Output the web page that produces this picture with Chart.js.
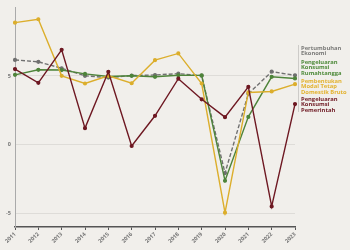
<!DOCTYPE html>
<html>
<head>
<meta charset="utf-8">
<script src="https://cdn.jsdelivr.net/npm/chart.js@4"></script>
<style>
html,body{margin:0;padding:0;background:#f1efeb;}
#wrap{position:relative;width:350px;height:250px;}
</style>
</head>
<body>
<div id="wrap"><canvas id="c" width="350" height="250"></canvas></div>
<script>
const years = ['2011','2012','2013','2014','2015','2016','2017','2018','2019','2020','2021','2022','2023'];
const ekonomi = [6.17, 6.03, 5.56, 5.01, 4.88, 5.03, 5.07, 5.17, 5.02, -2.07, 3.70, 5.31, 5.05];
const rumahtangga = [5.08, 5.45, 5.43, 5.15, 4.96, 5.01, 4.94, 5.05, 5.04, -2.63, 2.02, 4.94, 4.82];
const pmtb = [8.88, 9.13, 5.01, 4.45, 5.01, 4.47, 6.15, 6.64, 4.45, -4.96, 3.80, 3.87, 4.40];
const pemerintah = [5.5, 4.5, 6.9, 1.2, 5.3, -0.1, 2.1, 4.8, 3.3, 2.0, 4.2, -4.5, 2.95];
const yTicks = [-5, 0, 5];
const legendItems = [
  {lines:['Pertumbuhan','Ekonomi'], color:'#7a7a78'},
  {lines:['Pengeluaran','Konsumsi','Rumahtangga'], color:'#4e8a3a'},
  {lines:['Pembentukan','Modal Tetap','Domestik Bruto'], color:'#e3b22e'},
  {lines:['Pengeluaran','Konsumsi','Pemerintah'], color:'#6e1822'}
];

const legendPlugin = {
  id:'sideLegend',
  afterDraw(chart){
    const ctx = chart.ctx;
    const x = chart.chartArea.right + 6;
    ctx.save();
    ctx.strokeStyle = 'rgba(0,0,0,0.15)';
    ctx.lineWidth = 1;
    ctx.beginPath();
    ctx.moveTo(x - 2.5, 45);
    ctx.lineTo(x - 2.5, 112);
    ctx.stroke();
    ctx.font = 'bold 5.8px "Open Sans", sans-serif';
    ctx.textBaseline = 'middle';
    ctx.textAlign = 'left';
    const starts = [48, 62, 81, 99];
    legendItems.forEach((it, i) => {
      ctx.fillStyle = it.color;
      it.lines.forEach((l, j) => ctx.fillText(l, x, starts[i] + j * 5.7));
    });
    ctx.restore();
  }
};

function ds(label, data, color, dashed){
  return {
    label, data,
    borderColor: color, backgroundColor: color,
    borderWidth: 1.4,
    borderDash: dashed ? [4,2] : [],
    pointRadius: 1.4, pointHoverRadius: 1.4,
    pointBackgroundColor: color, pointBorderColor: color,
    tension: 0
  };
}

new Chart(document.getElementById('c'), {
  type:'line',
  data:{
    labels: years,
    datasets:[
      ds('Pengeluaran Konsumsi Pemerintah', pemerintah, '#6e1822', false),
      ds('Pembentukan Modal Tetap Domestik Bruto', pmtb, '#dcae2c', false),
      ds('Pengeluaran Konsumsi Rumahtangga', rumahtangga, '#4e843a', false),
      ds('Pertumbuhan Ekonomi', ekonomi, '#707070', true)
    ]
  },
  options:{
    responsive:false,
    animation:false,
    layout:{padding:{left:0, right:55, top:7, bottom:0}},
    plugins:{legend:{display:false}, tooltip:{enabled:false}},
    scales:{
      x:{
        offset:false,
        grid:{drawOnChartArea:false, drawTicks:true, tickLength:3, color:'#555'},
        border:{color:'#555', width:1.5},
        ticks:{font:{size:5.5, family:'"Open Sans", sans-serif', weight:'bold'}, color:'#777', minRotation:45, maxRotation:45, padding:1, autoSkip:false},
        afterFit(s){ s.height = 23; }
      },
      y:{
        min:-6, max:10,
        afterBuildTicks(s){ s.ticks = yTicks.map(v => ({value:v})); },
        grid:{color:'rgba(0,0,0,0.08)', drawTicks:false},
        border:{color:'#aaa', width:1},
        ticks:{font:{size:5.5, family:'"Open Sans", sans-serif', weight:'bold'}, color:'#777', padding:4},
        afterFit(s){ s.width = 15; }
      }
    }
  },
  plugins:[legendPlugin]
});
</script>
</body>
</html>
